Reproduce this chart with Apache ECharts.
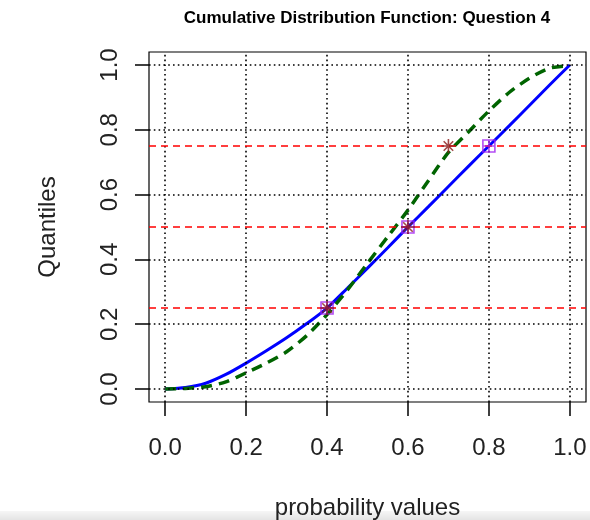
<!DOCTYPE html>
<html>
<head>
<meta charset="utf-8">
<script src="https://cdn.jsdelivr.net/npm/echarts@6/dist/echarts.min.js"></script>
<style>
  html, body { margin: 0; padding: 0; background: #ffffff; }
  #chart { width: 590px; height: 520px; }
</style>
</head>
<body>
<div id="chart"></div>
<script>
// Probability grid shared by both curves
const probs = [0, 0.05, 0.1, 0.15, 0.2, 0.25, 0.3, 0.35, 0.4, 0.45, 0.5,
               0.55, 0.6, 0.65, 0.7, 0.75, 0.8, 0.85, 0.9, 0.95, 1.0];
// Solid blue CDF
const cdfBlue = [0, 0.005, 0.018, 0.045, 0.08, 0.118, 0.158, 0.202, 0.25, 0.311, 0.373,
                 0.436, 0.5, 0.562, 0.625, 0.688, 0.75, 0.812, 0.875, 0.938, 1.0];
// Dashed green CDF
const cdfGreen = [0, 0.002, 0.007, 0.022, 0.05, 0.08, 0.115, 0.165, 0.23, 0.305, 0.388,
                  0.47, 0.552, 0.642, 0.73, 0.794, 0.858, 0.915, 0.959, 0.99, 0.998];
// Quartile levels (red reference lines)
const quartiles = [0.25, 0.5, 0.75];
// Quartile points located on each curve
const blueQuantX = [0.4, 0.6, 0.8];
const greenQuantX = [0.4, 0.6, 0.7];
// Axis ticks / grid positions
const ticks = [0, 0.2, 0.4, 0.6, 0.8, 1.0];

const pair = (xs, ys) => xs.map((x, i) => [x, ys[i]]);

const squarePlus = 'path://M0,0L10,0L10,10L0,10ZM5,0L5,10M0,5L10,5';
const asterisk = 'path://M5,0L5,10M0,5L10,5M1.6,1.6L8.4,8.4M8.4,1.6L1.6,8.4';

const font = '"Liberation Sans", Arial, Helvetica, sans-serif';

const chart = echarts.init(document.getElementById('chart'), null, { renderer: 'canvas' });

chart.setOption({
  animation: false,
  backgroundColor: '#ffffff',
  title: {
    text: 'Cumulative Distribution Function: Question 4',
    left: 362,
    textAlign: 'center',
    top: 5,
    textStyle: { fontFamily: font, fontWeight: 'bold', fontSize: 17, color: '#000' }
  },
  grid: {
    left: 149, right: 4, top: 52, bottom: 118,
    containLabel: false, outerBoundsMode: 'none',
    show: true, borderColor: '#000', borderWidth: 1.2, backgroundColor: 'transparent'
  },
  xAxis: {
    type: 'value', min: -0.04, max: 1.04,
    name: 'probability values', nameLocation: 'middle', nameGap: 94,
    nameTextStyle: { fontFamily: font, fontSize: 24, color: '#222' },
    axisLine: { show: false, onZero: false },
    splitLine: { show: false },
    axisTick: { show: true, inside: false, length: 14, customValues: ticks,
                lineStyle: { color: '#000', width: 1.5 } },
    axisLabel: { customValues: ticks, margin: 34, fontFamily: font, fontSize: 24, color: '#222',
                 formatter: v => v.toFixed(1) }
  },
  yAxis: {
    type: 'value', min: -0.04, max: 1.04,
    name: 'Quantiles', nameLocation: 'middle', nameGap: 89,
    nameTextStyle: { fontFamily: font, fontSize: 24, color: '#222' },
    axisLine: { show: false, onZero: false },
    splitLine: { show: false },
    axisTick: { show: true, inside: false, length: 14, customValues: ticks,
                lineStyle: { color: '#000', width: 1.5 } },
    axisLabel: { customValues: ticks, margin: 27, rotate: 90, fontFamily: font, fontSize: 24, color: '#222',
                 formatter: v => v.toFixed(1) }
  },
  graphic: [
    {
      // soft grey strip along the bottom edge
      type: 'rect', left: 0, bottom: 0, z: -1,
      shape: { width: 590, height: 9 },
      style: {
        fill: new echarts.graphic.LinearGradient(0, 0, 0, 1, [
          { offset: 0, color: '#f6f6f6' }, { offset: 1, color: '#e4e4e4' }
        ])
      }
    }
  ],
  series: [
    {
      // dotted reference grid
      type: 'line', data: [], silent: true,
      markLine: {
        silent: true, symbol: 'none', label: { show: false },
        lineStyle: { color: '#000', width: 1.6, type: [1.6, 3.2] },
        data: ticks.map(t => ({ xAxis: t })).concat(ticks.map(t => ({ yAxis: t })))
      }
    },
    {
      // quartile levels
      type: 'line', data: [], silent: true,
      markLine: {
        silent: true, symbol: 'none', label: { show: false },
        lineStyle: { color: '#ff0000', width: 1.6, type: [7, 5] },
        data: quartiles.map(q => ({ yAxis: q }))
      }
    },
    {
      type: 'line', data: pair(probs, cdfBlue), smooth: 0.25, showSymbol: false,
      lineStyle: { color: '#0000ff', width: 3 }, z: 3
    },
    {
      type: 'line', data: pair(probs, cdfGreen), smooth: 0.25, showSymbol: false,
      lineStyle: { color: '#006400', width: 3.5, type: [11, 7] }, z: 4
    },
    {
      type: 'scatter', data: pair(blueQuantX, quartiles), symbol: squarePlus, symbolSize: 12,
      itemStyle: { color: 'none', borderColor: '#a020f0', borderWidth: 1.6 }, z: 5
    },
    {
      type: 'scatter', data: pair(greenQuantX, quartiles), symbol: asterisk, symbolSize: 14,
      itemStyle: { color: 'none', borderColor: '#8b1a1a', borderWidth: 1.6 }, z: 6
    }
  ]
});
</script>
</body>
</html>
